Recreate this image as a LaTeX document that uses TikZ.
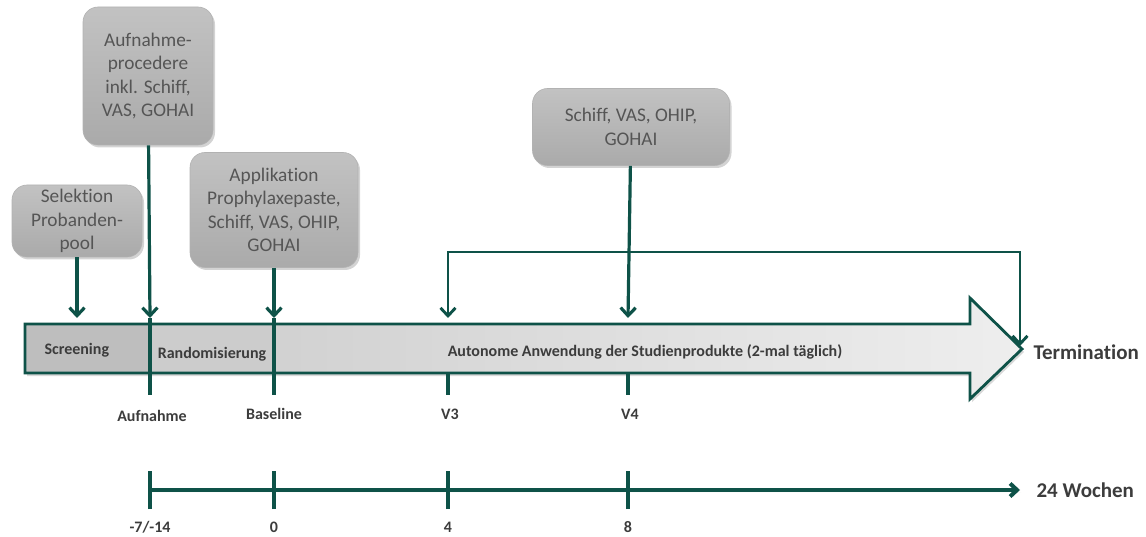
\documentclass[tikz,border=0pt]{standalone}
\usepackage{fontspec}
\setmainfont{Carlito}[Ligatures=NoCommon]
\usetikzlibrary{arrows.meta,shadows}
\definecolor{studgreen}{RGB}{14,82,72}
\definecolor{boxtext}{RGB}{85,85,85}
\definecolor{lbltext}{RGB}{60,60,60}
\begin{document}
\begin{tikzpicture}[x=1pt, y=-1pt, >={Straight Barb[length=8pt,width=15pt]},
    box/.style={draw=gray!60, line width=.6pt, rounded corners=15pt,
        top color={rgb,255:red,194;green,194;blue,194}, bottom color={rgb,255:red,170;green,170;blue,170},
        drop shadow={opacity=.35, shadow xshift=2pt, shadow yshift=-2.5pt},
        align=center, text=boxtext, font=\fontsize{19.3}{23.5}\selectfont, inner sep=2pt},
    flow/.style={draw=studgreen, line width=3.2pt},
    lbl/.style={text=lbltext, font=\fontsize{16}{18}\selectfont\bfseries}]
\useasboundingbox (0,0) rectangle (1146,537);

% boxes
\node[box, minimum width=130, minimum height=72] (sel) at (77,221) {Selektion\\Probanden-\\pool};
\node[box, minimum width=130, minimum height=138] (aufn) at (148,76) {Aufnahme-\\procedere\\inkl. Schiff,\\VAS, GOHAI};
\node[box, minimum width=168, minimum height=115] (appl) at (274,210) {Applikation\\Prophylaxepaste,\\Schiff, VAS, OHIP,\\GOHAI};
\node[box, minimum width=197, minimum height=77] (schiff) at (631,127) {Schiff, VAS, OHIP,\\GOHAI};

% big arrow
\fill[drop shadow={opacity=.3, shadow xshift=2pt, shadow yshift=-3pt}, left color={rgb,255:red,200;green,200;blue,200}, right color={rgb,255:red,238;green,238;blue,238}]
    (25,324) -- (970,324) -- (970,298) -- (1022,349) -- (970,399) -- (970,373) -- (25,373) -- cycle;
\fill[color={rgb,255:red,190;green,190;blue,190}] (25,324) rectangle (150,373);
\fill[color={rgb,255:red,204;green,204;blue,204}] (150,324) rectangle (274,373);
\draw[studgreen, line width=2.8pt, line join=miter]
    (25,324) -- (970,324) -- (970,298) -- (1022,349) -- (970,399) -- (970,373) -- (25,373) -- cycle;

\node[lbl, anchor=west] (scr) at (41,350) {Screening};
\node[lbl] (rand) at (212,354) {Randomisierung};
\node[lbl] (auto) at (645,352) {Autonome Anwendung der Studienprodukte (2-mal täglich)};
\node[lbl, font=\fontsize{21}{24}\selectfont\bfseries, anchor=west] (term) at (1030,352) {Termination};

% points on the arrow
\coordinate (p1) at (77,318);
\coordinate (p2) at (150,318);
\coordinate (p3) at (274,318);
\coordinate (p4) at (448,318);
\coordinate (p5) at (628,318);
\coordinate (tip) at (1020,346);
\coordinate (loop) at (1020,252);

\draw[flow, ->] (sel) -- (p1);
\draw[flow, ->] (aufn) -- (p2);
\draw[flow, ->] (appl) -- (p3);
\draw[flow, ->] (schiff) -- (p5);
\draw[flow, <->, line width=2.9pt] (p4) |- (loop) -- (tip);

% visits
\coordinate (q2) at (150,395);
\coordinate (q3) at (274,395);
\coordinate (q4) at (448,395);
\coordinate (q5) at (628,395);
\draw[flow] (p2) -- (q2);
\draw[flow] (p3) -- (q3);
\draw[flow] (448,373) -- (q4);
\draw[flow] (628,373) -- (q5);
\node[lbl] (aufnl) at (152,416) {Aufnahme};
\node[lbl] (basel) at (274,414) {Baseline};
\node[lbl] (v3) at (450,414) {V3};
\node[lbl] (v4) at (630,414) {V4};

% time line
\coordinate (t1) at (150,490);
\coordinate (t2) at (274,490);
\coordinate (t3) at (448,490);
\coordinate (t4) at (628,490);
\coordinate (tend) at (1020,490);
\draw[flow, line width=4pt, -{Straight Barb[length=7pt,width=13pt]}, drop shadow={opacity=.25, shadow xshift=1pt, shadow yshift=-2pt}] (t1) -- (tend);
\foreach \t in {t1,t2,t3,t4}
    \draw[flow, line width=4pt] ([yshift=-19pt]\t) -- ([yshift=19pt]\t);
\node[lbl, font=\fontsize{21}{24}\selectfont\bfseries, anchor=west] (wo) at (1033,490) {24 Wochen};
\node[lbl] (w1) at (150,527) {-7/-14};
\node[lbl] (w2) at (274,527) {0};
\node[lbl] (w3) at (448,527) {4};
\node[lbl] (w4) at (628,527) {8};
\end{tikzpicture}
\end{document}
